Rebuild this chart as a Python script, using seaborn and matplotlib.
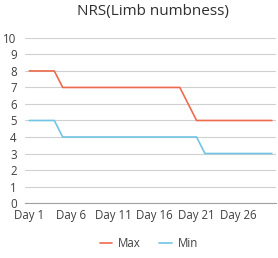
import matplotlib
matplotlib.use("Agg")
import matplotlib.pyplot as plt
import seaborn as sns
import pandas as pd
import numpy as np

# Data: daily NRS scores (30 days)
days = [f"Day {i}" for i in range(1, 31)]
max_vals = [8, 8, 8, 8, 7, 7, 7, 7, 7, 7, 7, 7, 7, 7, 7, 7, 7, 7, 7, 6,
            5, 5, 5, 5, 5, 5, 5, 5, 5, 5]
min_vals = [5, 5, 5, 5, 4, 4, 4, 4, 4, 4, 4, 4, 4, 4, 4, 4, 4, 4, 4, 4,
            4, 3, 3, 3, 3, 3, 3, 3, 3, 3]
series_names = ["Max", "Min"]
colors = ["#EE6B4D", "#72C5E5"]

df = pd.DataFrame({
    "idx": list(range(len(days))) * 2,
    "value": max_vals + min_vals,
    "series": [series_names[0]] * len(days) + [series_names[1]] * len(days),
})

sns.set_style("white")
plt.rcParams["font.family"] = ["Open Sans", "DejaVu Sans"]
text_color = "#404040"

fig = plt.figure(figsize=(2.78, 2.58), dpi=100)
ax = fig.add_axes([0.09, 0.213, 0.903, 0.64])

sns.lineplot(data=df, x="idx", y="value", hue="series", palette=colors,
             linewidth=1.2, ax=ax)

ax.set_xlim(-0.5, len(days) - 0.5)
ax.set_ylim(0, 10)
ax.set_yticks(range(0, 11))
ax.set_xticks(range(0, len(days), 5))
ax.set_xticklabels(days[::5])
ax.set_xticks(np.arange(-0.5, len(days), 1), minor=True)
ax.tick_params(axis="x", which="major", length=0, labelsize=8.3,
               colors=text_color, pad=4)
ax.tick_params(axis="x", which="minor", length=3, direction="inout",
               color="#A0A0A0", width=0.6)
ax.tick_params(axis="y", length=0, labelsize=8.3, colors=text_color, pad=6)
ax.grid(axis="y", color="#D0D0D0", linewidth=0.8)
ax.set_axisbelow(True)
for s in ["top", "right", "left"]:
    ax.spines[s].set_visible(False)
ax.spines["bottom"].set_color("#A0A0A0")
ax.spines["bottom"].set_linewidth(0.8)
ax.set_xlabel("")
ax.set_ylabel("")

fig.suptitle("NRS(Limb numbness)", x=0.55, y=0.985, fontsize=11,
             color="#303030")

ax.get_legend().remove()
handles, labels = ax.get_legend_handles_labels()
fig.legend(handles, labels, loc="center", bbox_to_anchor=(0.535, 0.055),
           ncol=2, frameon=False, fontsize=8.3, labelcolor=text_color,
           handlelength=1.1, columnspacing=1.6, handletextpad=0.5)

fig.savefig("out.png", dpi=100)
